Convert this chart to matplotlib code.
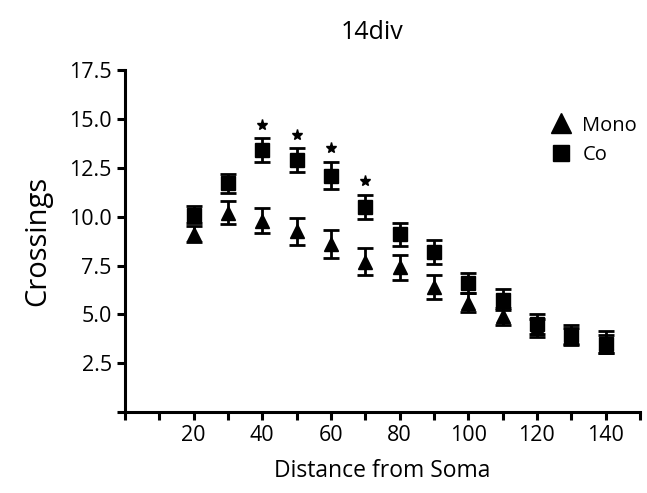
import matplotlib.pyplot as plt
from matplotlib.lines import Line2D

plt.rcParams['font.family'] = ['Open Sans', 'DejaVu Sans']

distance = [20, 30, 40, 50, 60, 70, 80, 90, 100, 110, 120, 130, 140]

mono_mean = [9.1, 10.2, 9.8, 9.25, 8.6, 7.7, 7.4, 6.4, 5.6, 4.9, 4.3, 3.9, 3.6]
mono_sem = [0.4, 0.6, 0.65, 0.7, 0.7, 0.7, 0.65, 0.6, 0.5, 0.45, 0.45, 0.4, 0.55]

co_mean = [10.1, 11.7, 13.4, 12.9, 12.1, 10.5, 9.1, 8.2, 6.6, 5.75, 4.5, 3.95, 3.5]
co_sem = [0.45, 0.5, 0.6, 0.6, 0.7, 0.6, 0.6, 0.6, 0.5, 0.55, 0.5, 0.5, 0.45]

# points marked as significant
star_x = [40, 50, 60, 70]

fig = plt.figure(figsize=(6.47, 4.93), dpi=100)
ax = fig.add_axes([0.193, 0.164, 0.796, 0.694])

ax.errorbar(distance, mono_mean, yerr=mono_sem, fmt='^', color='black',
            markersize=10, capsize=6, capthick=2, elinewidth=2)
ax.errorbar(distance, co_mean, yerr=co_sem, fmt='s', color='black',
            markersize=9.5, capsize=6, capthick=2, elinewidth=2)

star_y = [co_mean[distance.index(x)] + co_sem[distance.index(x)] + 0.7
          for x in star_x]
ax.plot(star_x, star_y, linestyle='none', marker='*', color='black',
        markersize=8)

ax.set_xlim(0, 150)
ax.set_ylim(0, 17.5)
ax.set_xticks(range(0, 151, 10))
ax.set_xticklabels(['' if (v < 20 or v % 20) or v > 140 else str(v)
                    for v in range(0, 151, 10)])
ax.set_yticks([0, 2.5, 5.0, 7.5, 10.0, 12.5, 15.0, 17.5])
ax.set_yticklabels(['', '2.5', '5.0', '7.5', '10.0', '12.5', '15.0', '17.5'])

for side in ['top', 'right']:
    ax.spines[side].set_visible(False)
for side in ['left', 'bottom']:
    ax.spines[side].set_linewidth(2.2)
ax.tick_params(axis='both', direction='out', length=6, width=2.2,
               labelsize=15.5)

ax.set_title('14div', fontsize=18, pad=22, x=0.48)
ax.set_xlabel('Distance from Soma', fontsize=16.5, labelpad=9)
ax.set_ylabel('Crossings', fontsize=21, labelpad=12)

handles = [Line2D([], [], marker='^', color='black', linestyle='none', markersize=14),
           Line2D([], [], marker='s', color='black', linestyle='none', markersize=11)]
ax.legend(handles, ['Mono', 'Co'], loc='upper right', bbox_to_anchor=(1.03, 0.92),
          frameon=False, fontsize=14.5, handletextpad=0.45, labelspacing=0.45,
          handlelength=1.2)

fig.savefig('out.png', dpi=100)
